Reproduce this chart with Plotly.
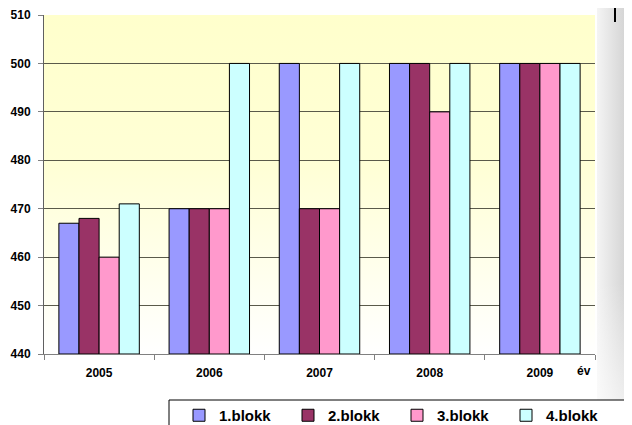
import base64
import plotly.graph_objects as go

# --- DADOS ---
anos = ["2005", "2006", "2007", "2008", "2009"]
blokk1 = [467, 470, 500, 500, 500]
blokk2 = [468, 470, 470, 500, 500]
blokk3 = [460, 470, 470, 490, 500]
blokk4 = [471, 500, 500, 500, 500]

series = [
    ("1.blokk", blokk1, "#9999FF"),
    ("2.blokk", blokk2, "#993366"),
    ("3.blokk", blokk3, "#FF99CC"),
    ("4.blokk", blokk4, "#CCFFFF"),
]

W, H = 632, 425
# a página tem 8px de margem no body -> tudo deslocado 8px
OFF = 8
M = dict(l=44 - OFF, r=W - (595 - OFF), t=15 - OFF, b=H - (354 - OFF), autoexpand=False)
FONT = "Liberation Sans, Arial, sans-serif"


def svg_uri(svg):
    return "data:image/svg+xml;base64," + base64.b64encode(svg.encode()).decode()


# fundo amarelo -> branco (estilo Excel)
bg_svg = (
    '<svg xmlns="http://www.w3.org/2000/svg" width="100" height="100" preserveAspectRatio="none">'
    '<defs><linearGradient id="g" x1="0" y1="0" x2="0" y2="1">'
    '<stop offset="0" stop-color="#FFFFCC"/><stop offset="0.45" stop-color="#FFFFD6"/>'
    '<stop offset="1" stop-color="#FFFFFF"/></linearGradient></defs>'
    '<rect width="100" height="100" fill="url(#g)"/></svg>'
)

# sombra cinza na direita
shadow_svg = (
    '<svg xmlns="http://www.w3.org/2000/svg" width="100" height="100" preserveAspectRatio="none">'
    '<defs><linearGradient id="s" x1="0" y1="0" x2="1" y2="0">'
    '<stop offset="0" stop-color="#F4F4F4"/><stop offset="1" stop-color="#C4C4C4"/></linearGradient>'
    '<linearGradient id="f" x1="0" y1="0" x2="0" y2="1">'
    '<stop offset="0" stop-color="#FFFFFF" stop-opacity="0"/><stop offset="0.7" stop-color="#FFFFFF" stop-opacity="0"/>'
    '<stop offset="1" stop-color="#FFFFFF" stop-opacity="0.6"/></linearGradient></defs>'
    '<rect width="100" height="100" fill="url(#s)"/><rect width="100" height="100" fill="url(#f)"/></svg>'
)

fig = go.Figure()

for nome, valores, cor in series:
    fig.add_trace(
        go.Bar(
            x=anos,
            y=[v - 440 for v in valores],
            base=440,
            name=nome,
            marker=dict(color=cor, line=dict(color="#000000", width=1)),
        )
    )

pw = W - M["l"] - M["r"]
ph = H - M["t"] - M["b"]


# coordenadas da janela (referência) -> paper
def px_x(x):
    return (x - OFF - M["l"]) / pw


def px_y(y):
    return (H - M["b"] - (y - OFF)) / ph


fig.update_layout(
    width=W,
    height=H,
    margin=M,
    paper_bgcolor="white",
    plot_bgcolor="rgba(0,0,0,0)",
    barmode="group",
    bargap=0.27,
    bargroupgap=0,
    font=dict(family=FONT, color="#000000"),
    showlegend=True,
    legend=dict(
        orientation="h",
        x=px_x(179),
        xanchor="left",
        y=px_y(399),
        yanchor="top",
        entrywidth=64,
        entrywidthmode="pixels",
        font=dict(family=FONT, size=15, weight="bold"),
        bgcolor="rgba(0,0,0,0)",
        itemwidth=30,
        traceorder="normal",
    ),
    xaxis=dict(
        type="category",
        tickson="boundaries",
        ticks="outside",
        ticklen=5,
        tickcolor="#808080",
        showline=True,
        linecolor="#808080",
        linewidth=1,
        showgrid=False,
        ticklabelstandoff=8,
        tickfont=dict(family=FONT, size=12, weight="bold"),
    ),
    yaxis=dict(
        range=[440, 510],
        dtick=10,
        tick0=440,
        ticks="outside",
        ticklen=5,
        tickcolor="#808080",
        showline=True,
        linecolor="#606060",
        linewidth=1,
        showgrid=True,
        gridcolor="#5A5A4A",
        gridwidth=1,
        zeroline=False,
        ticklabelstandoff=5,
        tickfont=dict(family=FONT, size=12, weight="bold"),
    ),
    images=[
        dict(
            source=svg_uri(bg_svg),
            xref="paper", yref="paper",
            x=0, y=1, sizex=1, sizey=1,
            sizing="stretch", layer="below",
            xanchor="left", yanchor="top",
        ),
        dict(
            source=svg_uri(shadow_svg),
            xref="paper", yref="paper",
            x=px_x(597), y=px_y(8), sizex=px_x(640) - px_x(597), sizey=px_y(8) - px_y(400),
            sizing="stretch", layer="below",
            xanchor="left", yanchor="top",
        ),
    ],
    shapes=[
        # caixa da legenda
        dict(
            type="rect", xref="paper", yref="paper",
            x0=px_x(169), x1=px_x(645), y0=px_y(400), y1=px_y(432),
            line=dict(color="#000000", width=1), fillcolor="white", layer="below",
        ),
        # traço no topo (recorte do documento)
        dict(type="line", xref="paper", yref="paper",
             x0=px_x(615), x1=px_x(615), y0=px_y(8), y1=px_y(22),
             line=dict(color="#000000", width=2)),
    ],
    annotations=[
        dict(
            text="év", xref="paper", yref="paper",
            x=px_x(593), y=px_y(380), showarrow=False,
            font=dict(family=FONT, size=12, weight="bold"),
        )
    ],
)

fig.write_html("out.html")
